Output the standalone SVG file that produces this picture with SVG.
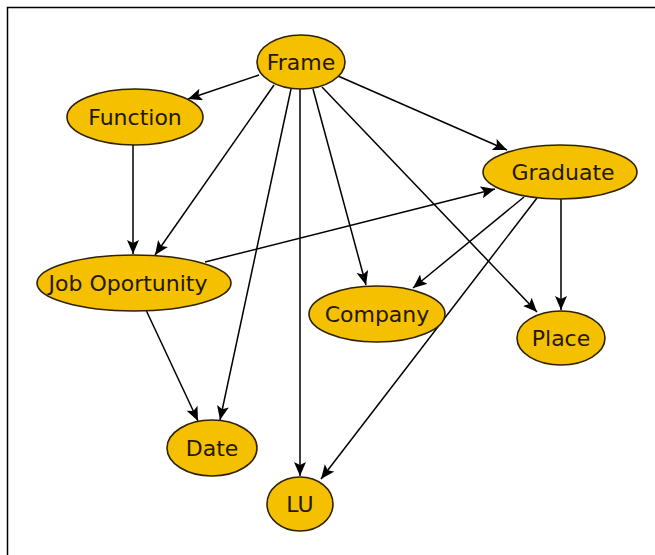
<svg xmlns="http://www.w3.org/2000/svg" width="655" height="555" viewBox="0 0 655 555">
<style>
.n ellipse{fill:#f5c000;stroke:#2e2200;stroke-width:1.6}
.n text{font-family:"DejaVu Sans",sans-serif;font-size:22px;fill:#241800;text-anchor:middle}
.e line{stroke:#000;stroke-width:1.5;marker-end:url(#ah)}
</style>
<defs>
<marker id="ah" markerUnits="userSpaceOnUse" markerWidth="16" markerHeight="13" refX="14" refY="6" orient="auto">
<path d="M0,0 L14,6 L0,12 L3,6 z" fill="#000"/>
</marker>
</defs>
<rect x="0" y="0" width="655" height="555" fill="#fff"/>
<path d="M7.5,555 V7.5 H655" fill="none" stroke="#000" stroke-width="1.5"/>
<g class="e" id="edges">
<line x1="259" y1="75" x2="188" y2="99"/>
<line x1="274" y1="85" x2="155" y2="255"/>
<line x1="291" y1="89" x2="220" y2="420"/>
<line x1="300" y1="89" x2="300" y2="476"/>
<line x1="313" y1="89" x2="366" y2="285"/>
<line x1="322" y1="87" x2="537" y2="312"/>
<line x1="338" y1="76" x2="507" y2="150"/>
<line x1="133" y1="145" x2="133" y2="254"/>
<line x1="205" y1="262" x2="495" y2="189"/>
<line x1="146" y1="310" x2="198" y2="421"/>
<line x1="524" y1="197" x2="413" y2="288"/>
<line x1="561" y1="199" x2="561" y2="310"/>
<line x1="537" y1="198" x2="321" y2="479"/>
</g>
<g class="n" id="frame"><ellipse cx="301" cy="62" rx="44" ry="27"/><text x="301" y="70">Frame</text></g>
<g class="n" id="function"><ellipse cx="135" cy="117" rx="68" ry="28"/><text x="135" y="125">Function</text></g>
<g class="n" id="graduate"><ellipse cx="560" cy="172" rx="77" ry="27"/><text x="563" y="180">Graduate</text></g>
<g class="n" id="job"><ellipse cx="134" cy="283" rx="97" ry="28"/><text x="128" y="291">Job Oportunity</text></g>
<g class="n" id="company"><ellipse cx="377" cy="314" rx="68" ry="28"/><text x="377" y="322">Company</text></g>
<g class="n" id="place"><ellipse cx="561" cy="338" rx="44" ry="27"/><text x="561" y="346">Place</text></g>
<g class="n" id="date"><ellipse cx="212" cy="448" rx="45" ry="28"/><text x="212" y="456">Date</text></g>
<g class="n" id="lu"><ellipse cx="300" cy="504" rx="33" ry="27"/><text x="300" y="512">LU</text></g>
</svg>
